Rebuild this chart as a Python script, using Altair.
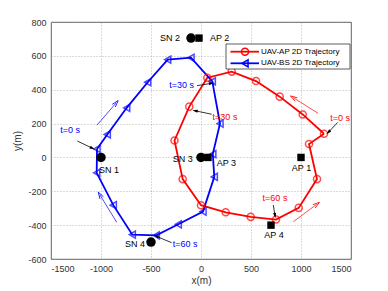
import math
import pandas as pd
import altair as alt

# UAV-AP trajectory (red), closed loop
ap_x = [1230, 1017, 787, 550, 307, 63, -117, -265, -183, 0, 247, 497, 750, 977, 1160, 1080, 1230]
ap_y = [140, 254, 359, 451, 507, 471, 300, 100, -128, -282, -324, -351, -367, -298, -128, 79, 140]
# UAV-BS trajectory (blue), closed loop
bs_x = [-1040, -937, -743, -533, -333, -100, 113, 190, 118, 133, 20, -227, -447, -687, -877, -1043, -1040]
bs_y = [50, 136, 293, 444, 578, 589, 449, 200, 20, -115, -320, -395, -460, -456, -282, -91, 50]

# Sensor nodes and access points
sn_names = ["SN 1", "SN 2", "SN 3", "SN 4"]
sn_x = [-1000, -100, 0, -500]
sn_y = [0, 705, 0, -500]
ap_names = ["AP 1", "AP 2", "AP 3", "AP 4"]
apn_x = [1000, -20, 70, 700]
apn_y = [0, 705, 0, -400]

# node labels
lab_text = ["SN 1", "SN 2", "SN 3", "SN 4", "AP 1", "AP 2", "AP 3", "AP 4"]
lab_x = [-1020, -210, -83, -560, 1005, 90, 157, 730]
lab_y = [-75, 705, -11, -512, -64, 705, -35, -458]
lab_align = ["left", "right", "right", "right", "center", "left", "left", "center"]

# time annotations
t_text = ["t=0 s", "t=30 s", "t=60 s", "t=0 s", "t=30 s", "t=60 s"]
t_x = [-1310, -193, -283, 1390, 240, 740]
t_y = [160, 425, -512, 231, 239, -238]
t_align = ["center", "center", "left", "center", "center", "center"]
t_series = ["BS", "BS", "BS", "AP", "AP", "AP"]

# black pointer arrows (from -> to)
pa_x1 = [-1237, -40, -293, 1367, 107, 723]
pa_y1 = [97, 424, -504, 207, 255, -281]
pa_x2 = [-1085, 107, -450, 1273, -60, 740]
pa_y2 = [54, 438, -465, 148, 276, -344]

# thin direction arrows (from -> to)
da_x1 = [-1040, -843, 1173, 923]
da_y1 = [191, -383, 260, -380]
da_x2 = [-850, -1010, 923, 1157]
da_y2 = [321, -222, 353, -277]
da_series = ["BS", "BS", "AP", "AP"]

x_ticks = [-1500, -1000, -500, 0, 500, 1000, 1500]
y_ticks = [-600, -400, -200, 0, 200, 400, 600, 800]

W, H = 300, 237
XD = [-1500, 1500]
YD = [-600, 800]
sx = W / (XD[1] - XD[0])
sy = H / (YD[1] - YD[0])

RED = "#ff0000"
BLUE = "#0000ff"
FONT = "Liberation Sans"

xs = alt.Scale(domain=XD, nice=False, zero=False)
ys = alt.Scale(domain=YD, nice=False, zero=False)
xaxis = alt.Axis(values=x_ticks, title="x(m)", labelOverlap=False,
                 labelExpr="'' + datum.value")
yaxis = alt.Axis(values=y_ticks, title="y(m)", labelOverlap=False,
                 labelExpr="'' + datum.value")


def angle(x1, y1, x2, y2):
    return math.degrees(math.atan2((x2 - x1) * sx, (y2 - y1) * sy)) % 360


def X(f):
    return alt.X(f, scale=xs, axis=xaxis)


def Y(f):
    return alt.Y(f, scale=ys, axis=yaxis)


traj = pd.DataFrame(
    [{"i": i, "x": x, "y": y, "s": "AP"} for i, (x, y) in enumerate(zip(ap_x, ap_y))]
    + [{"i": i, "x": x, "y": y, "s": "BS"} for i, (x, y) in enumerate(zip(bs_x, bs_y))]
)
pts = traj[traj["i"] < len(ap_x) - 1]

cscale = alt.Scale(domain=["AP", "BS"], range=[RED, BLUE])

lines = alt.Chart(traj).mark_line(strokeWidth=1.8).encode(
    x=X("x:Q"),
    y=Y("y:Q"),
    color=alt.Color("s:N", scale=cscale, legend=None),
    detail="s:N",
    order="i:Q",
)

markers = alt.Chart(pts).mark_point(filled=False, size=50, strokeWidth=1.5).encode(
    x=X("x:Q"),
    y=Y("y:Q"),
    color=alt.Color("s:N", scale=cscale, legend=None),
    shape=alt.Shape("s:N", scale=alt.Scale(domain=["AP", "BS"], range=["circle", "triangle-left"]), legend=None),
)

sn_df = pd.DataFrame({"n": sn_names, "x": sn_x, "y": sn_y})
ap_df = pd.DataFrame({"n": ap_names, "x": apn_x, "y": apn_y})
sn_layer = alt.Chart(sn_df).mark_point(shape="circle", filled=True, size=90, color="black", opacity=1).encode(x=X("x:Q"), y=Y("y:Q"))
ap_layer = alt.Chart(ap_df).mark_point(shape="square", filled=True, size=55, color="black", opacity=1).encode(x=X("x:Q"), y=Y("y:Q"))

lab_layers = []
for al in ["left", "right", "center"]:
    d = pd.DataFrame({"t": lab_text, "x": lab_x, "y": lab_y, "a": lab_align})
    d = d[d["a"] == al]
    lab_layers.append(
        alt.Chart(d).mark_text(align=al, baseline="middle", font=FONT, fontSize=9, color="black").encode(
            x=X("x:Q"), y=Y("y:Q"), text="t:N"
        )
    )

t_layers = []
tdf = pd.DataFrame({"t": t_text, "x": t_x, "y": t_y, "a": t_align, "s": t_series})
for al in ["left", "center"]:
    d = tdf[tdf["a"] == al]
    t_layers.append(
        alt.Chart(d).mark_text(align=al, baseline="middle", font=FONT, fontSize=9).encode(
            x=X("x:Q"), y=Y("y:Q"), text="t:N", color=alt.Color("s:N", scale=cscale, legend=None)
        )
    )

pa_df = pd.DataFrame({"x1": pa_x1, "y1": pa_y1, "x2": pa_x2, "y2": pa_y2})
pa_df["ang"] = [angle(a, b, c, d) for a, b, c, d in zip(pa_x1, pa_y1, pa_x2, pa_y2)]
pa_shaft = alt.Chart(pa_df).mark_rule(color="black", strokeWidth=0.8).encode(
    x=X("x1:Q"), y=Y("y1:Q"), x2="x2:Q", y2="y2:Q"
)
pa_head = alt.Chart(pa_df).mark_point(
    shape="M0,-1L0.55,1L-0.55,1Z", filled=True, size=30, color="black", opacity=1
).encode(x=X("x2:Q"), y=Y("y2:Q"), angle=alt.Angle("ang:Q", scale=None))

da_df = pd.DataFrame({"x1": da_x1, "y1": da_y1, "x2": da_x2, "y2": da_y2, "s": da_series})
da_df["ang"] = [angle(a, b, c, d) for a, b, c, d in zip(da_x1, da_y1, da_x2, da_y2)]
da_shaft = alt.Chart(da_df).mark_rule(strokeWidth=0.7).encode(
    x=X("x1:Q"), y=Y("y1:Q"), x2="x2:Q", y2="y2:Q", color=alt.Color("s:N", scale=cscale, legend=None)
)
da_head = alt.Chart(da_df).mark_point(
    shape="M-0.6,1L0,-1L0.6,1", filled=False, size=45, strokeWidth=0.8, opacity=1
).encode(x=X("x2:Q"), y=Y("y2:Q"), angle=alt.Angle("ang:Q", scale=None), color=alt.Color("s:N", scale=cscale, legend=None))

# manual legend (plot-area pixel positions)
one = pd.DataFrame({"k": [0]})
leg_names = ["UAV-AP 2D Trajectory", "UAV-BS 2D Trajectory"]
leg_box = alt.Chart(one).mark_rect(fill="white", stroke="#333", strokeWidth=0.8).encode(
    x=alt.value(175), x2=alt.value(299), y=alt.value(22), y2=alt.value(47)
)
leg_layers = [leg_box]
for k, (nm, col, shp) in enumerate(zip(leg_names, [RED, BLUE], ["circle", "triangle-left"])):
    yy = 29.7 + 11.6 * k
    leg_layers.append(
        alt.Chart(one).mark_rule(color=col, strokeWidth=1.8).encode(
            x=alt.value(179.5), x2=alt.value(208), y=alt.value(yy)
        )
    )
    leg_layers.append(
        alt.Chart(one).mark_point(shape=shp, filled=False, size=50, strokeWidth=1.5, color=col, opacity=1).encode(
            x=alt.value(194), y=alt.value(yy)
        )
    )
    leg_layers.append(
        alt.Chart(pd.DataFrame({"t": [nm]})).mark_text(
            align="left", baseline="middle", font=FONT, fontSize=8, color="black"
        ).encode(x=alt.value(210), y=alt.value(yy), text="t:N")
    )

chart = alt.layer(
    lines, markers, sn_layer, ap_layer, *lab_layers, *t_layers,
    pa_shaft, pa_head, da_shaft, da_head, *leg_layers
).properties(
    width=W, height=H,
    padding={"left": 43, "top": 14, "right": 29, "bottom": 28},
    autosize=alt.AutoSizeParams(type="none"),
).configure_view(
    stroke="#333", strokeWidth=0.8
).configure_axis(
    domain=False, ticks=False, grid=True, gridColor="#999", gridDash=[1, 2], gridWidth=0.7,
    labelFont=FONT, labelFontSize=9, labelColor="#333", labelPadding=5, labelOverlap=False,
    titleFont=FONT, titleFontSize=10, titleFontWeight="normal", titleColor="#333",
).configure_axisX(titlePadding=2).configure_axisY(titlePadding=5, labelOverlap=False)

chart.save("out.html", embed_options={"renderer": "svg", "actions": False})
